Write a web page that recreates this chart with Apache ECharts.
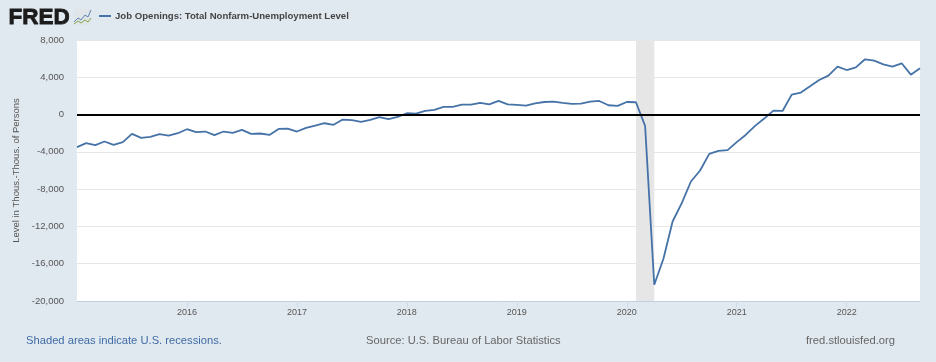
<!DOCTYPE html>
<html><head><meta charset="utf-8">
<style>html,body{margin:0;padding:0;background:#e1e9f0}#c{width:936px;height:362px}</style>
<script src="https://cdn.jsdelivr.net/npm/echarts@6/dist/echarts.min.js"></script></head>
<body><div id="c"></div>
<script>
const seriesName = 'Job Openings: Total Nonfarm-Unemployment Level';
const yAxisName = 'Level in Thous.-Thous. of Persons';
const startYear = 2015, startMonth = 0;
const values2015 = [-3500,-3070,-3280,-2890,-3250,-2960,-2070,-2500,-2390,-2100,-2250,-2000];
const values2016 = [-1570,-1890,-1820,-2210,-1820,-1960,-1640,-2070,-2030,-2180,-1535,-1500];
const values2017 = [-1820,-1430,-1180,-930,-1100,-535,-600,-785,-570,-285,-500,-250];
const values2018 = [140,100,390,500,820,820,1070,1070,1250,1100,1460,1100];
const values2019 = [1035,960,1210,1350,1390,1250,1140,1180,1390,1460,1000,930];
const values2020 = [1350,1320,-1210,-18260,-15470,-11470,-9500,-7180,-6000,-4210,-3890,-3820];
const values2021 = [-2960,-2160,-1210,-430,430,390,2140,2360,3030,3710,4180,5140];
const values2022 = [4780,5070,5930,5780,5390,5140,5500,4280,4960];
const values = [].concat(values2015,values2016,values2017,values2018,values2019,values2020,values2021,values2022);
const months = values.map((_, i) => {
  const y = startYear + Math.floor(i / 12), m = i % 12 + 1;
  return y + '-' + String(m).padStart(2, '0');
});
const recession = ['2020-02', '2020-04'];
const yTicks = {min: -20000, max: 8000, interval: 4000};
const sourceText = 'Source: U.S. Bureau of Labor Statistics';
const noteText = 'Shaded areas indicate U.S. recessions.';
const siteText = 'fred.stlouisfed.org';
const font = '"Liberation Sans", Arial, sans-serif';
const isYearStart = (i, v) => v.endsWith('-01') && i > 0;

const chart = echarts.init(document.getElementById('c'), null, {renderer: 'canvas'});
chart.setOption({
  animation: false,
  backgroundColor: '#e1e9f0',
  grid: {left: 77, right: 16, top: 40, bottom: 61, show: true, backgroundColor: '#fff', borderWidth: 0, containLabel: false},
  xAxis: {
    type: 'category', data: months, boundaryGap: false,
    axisLine: {onZero: false, lineStyle: {color: '#c0d0e0', width: 1}},
    axisTick: {interval: isYearStart, length: 6, lineStyle: {color: '#d0dae5'}},
    axisLabel: {interval: isYearStart, formatter: v => v.slice(0, 4), color: '#555', fontFamily: font, fontSize: 9, margin: 7},
    splitLine: {show: false}
  },
  yAxis: {
    type: 'value', min: yTicks.min, max: yTicks.max, interval: yTicks.interval,
    name: yAxisName, nameLocation: 'middle', nameGap: 53,
    nameTextStyle: {color: '#555', fontFamily: font, fontSize: 9.5},
    axisLine: {show: false}, axisTick: {show: false},
    axisLabel: {formatter: v => v.toLocaleString('en-US'), color: '#555', fontFamily: font, fontSize: 9.5, margin: 13, padding: [4, 0, 0, 0]},
    splitLine: {lineStyle: {color: '#e6e6e6', width: 1}}
  },
  series: [{
    name: seriesName, type: 'line', data: values, symbol: 'none', z: 5,
    lineStyle: {color: '#4572a7', width: 1.8},
    markArea: {silent: true, itemStyle: {color: '#e6e6e6'}, data: [[{xAxis: recession[0]}, {xAxis: recession[1]}]], z: 1},
    markLine: {silent: true, symbol: 'none', label: {show: false}, lineStyle: {color: '#000', width: 2, type: 'solid'}, data: [{yAxis: 0}], z: 6}
  }],
  graphic: [
    {type: 'text', left: 8, top: 6, style: {text: 'FRED', fontFamily: font, fontWeight: 'bold', fontSize: 22.5, fill: '#1c1c1c', stroke: '#1c1c1c', lineWidth: 0.8}},
    {type: 'rect', shape: {x: 74, y: 9, width: 17, height: 16}, style: {fill: '#dfe5e8'}},
    {type: 'polyline', shape: {points: [[74,22],[78,18],[81,20],[85,15],[88,17],[91,10]]}, style: {stroke: '#5d86b5', lineWidth: 1, fill: null}},
    {type: 'polyline', shape: {points: [[74,24],[78,21],[81,23],[85,20],[88,22],[91,18]]}, style: {stroke: '#8aa64e', lineWidth: 1, fill: null}},
    {type: 'line', shape: {x1: 99, y1: 16, x2: 111, y2: 16}, style: {stroke: '#4572a7', lineWidth: 2}},
    {type: 'text', left: 115, top: 11, style: {text: seriesName, fontFamily: font, fontWeight: 'bold', fontSize: 9.6, fill: '#444'}},
    {type: 'text', left: 26, top: 335, style: {text: noteText, fontFamily: font, fontSize: 11.2, fill: '#3f6ba5'}},
    {type: 'text', left: 366, top: 335, style: {text: sourceText, fontFamily: font, fontSize: 11.2, fill: '#666'}},
    {type: 'text', left: 806, top: 335, style: {text: siteText, fontFamily: font, fontSize: 11.2, fill: '#666'}}
  ]
});
</script></body></html>
